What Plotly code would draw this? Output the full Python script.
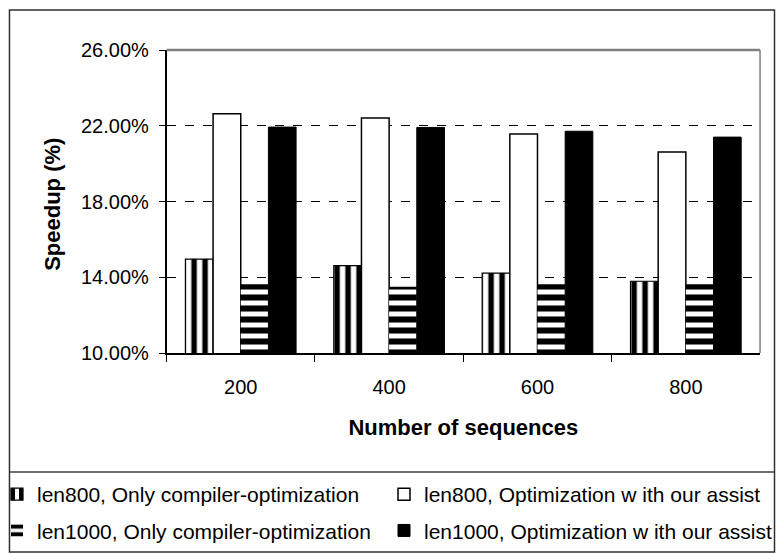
import plotly.graph_objects as go

categories = ["200", "400", "600", "800"]
len800_compiler = [14.96, 14.61, 14.22, 13.79]
len800_assist = [22.63, 22.41, 21.57, 20.62]
len1000_compiler = [13.63, 13.50, 13.63, 13.63]
len1000_assist = [21.93, 21.91, 21.71, 21.40]
series_names = [
    "len800, Only compiler-optimization",
    "len800, Optimization w ith our assist",
    "len1000, Only compiler-optimization",
    "len1000, Optimization w ith our assist",
]
y_ticks = [10, 14, 18, 22, 26]

W, H = 777, 553
L, R, T, B = 167, 762, 50, 353  # plot area in px


def px(x):
    return x / W


def py(y):
    return (H - y) / H


FONT = "Liberation Sans, Arial, sans-serif"

fig = go.Figure()
fig.add_trace(go.Bar(
    x=categories, y=len800_compiler, name=series_names[0], legend="legend", legendgroup="a",
    marker=dict(color="white", line=dict(color="black", width=1.2),
                pattern=dict(shape="|", fillmode="replace", fgcolor="black", bgcolor="white",
                             fgopacity=1, size=11, solidity=0.5)),
))
fig.add_trace(go.Bar(
    x=categories, y=len800_assist, name=series_names[1], legend="legend2", legendgroup="b",
    marker=dict(color="white", line=dict(color="black", width=1.5)),
))
fig.add_trace(go.Bar(
    x=categories, y=len1000_compiler, name=series_names[2], legend="legend", legendgroup="c",
    marker=dict(color="white", line=dict(color="black", width=0),
                pattern=dict(shape="-", fillmode="replace", fgcolor="black", bgcolor="white",
                             fgopacity=1, size=11, solidity=0.55)),
))
fig.add_trace(go.Bar(
    x=categories, y=len1000_assist, name=series_names[3], legend="legend2", legendgroup="d",
    marker=dict(color="black", line=dict(color="black", width=1)),
))

fig.update_layout(
    template="none",
    width=W, height=H,
    margin=dict(l=0, r=0, t=0, b=0),
    paper_bgcolor="white", plot_bgcolor="white",
    barmode="group", bargap=0.254, bargroupgap=0,
    font=dict(family=FONT, size=20, color="black"),
    showlegend=True,
    legend=dict(x=px(0), y=py(474), xanchor="left", yanchor="top", indentation=-3,
                font=dict(size=21, family=FONT), tracegroupgap=6,
                bgcolor="rgba(0,0,0,0)", borderwidth=0),
    legend2=dict(x=px(388), y=py(474), xanchor="left", yanchor="top", indentation=-3,
                 font=dict(size=21, family=FONT), tracegroupgap=6,
                 bgcolor="rgba(0,0,0,0)", borderwidth=0),
    xaxis=dict(
        domain=[L / W, R / W],
        type="category", tickson="boundaries", ticks="outside", ticklen=7,
        tickcolor="black", showline=True, linecolor="black", linewidth=1.5,
        showgrid=False, tickfont=dict(size=20), ticklabelstandoff=15,
        title=dict(text="<b>Number of sequences</b>", font=dict(size=22), standoff=23),
    ),
    yaxis=dict(
        domain=[(H - B) / H, (H - T) / H],
        range=[10, 26], tickvals=y_ticks, ticktext=[f"{v:.2f}%" for v in y_ticks],
        ticks="outside", ticklen=6, tickcolor="black", showline=True,
        linecolor="black", linewidth=1.5, zeroline=False,
        showgrid=True, gridcolor="black", griddash="dash", gridwidth=1,
        tickfont=dict(size=20), ticklabelstandoff=6,
    ),
)

# y-axis title placed like the original
fig.add_annotation(
    text="<b>Speedup (%)</b>", textangle=-90, xref="paper", yref="paper",
    x=px(52), y=py(204), xanchor="center", yanchor="middle",
    showarrow=False, font=dict(size=22, family=FONT),
)

# plot-area top/right gray border
fig.add_shape(type="line", xref="paper", yref="paper", x0=px(L), x1=px(R), y0=py(T), y1=py(T),
              line=dict(color="#808080", width=2.5))
fig.add_shape(type="line", xref="paper", yref="paper", x0=px(R), x1=px(R), y0=py(B), y1=py(T),
              line=dict(color="#808080", width=1.5))
# outer chart border and legend separator
fig.add_shape(type="rect", xref="paper", yref="paper",
              x0=px(9.5), x1=px(776.5), y0=py(552), y1=py(10),
              line=dict(color="#303030", width=1.5), layer="below")
fig.add_shape(type="line", xref="paper", yref="paper",
              x0=px(9.5), x1=px(776.5), y0=py(472), y1=py(472),
              line=dict(color="#404040", width=1.5))

fig.write_html("out.html")
